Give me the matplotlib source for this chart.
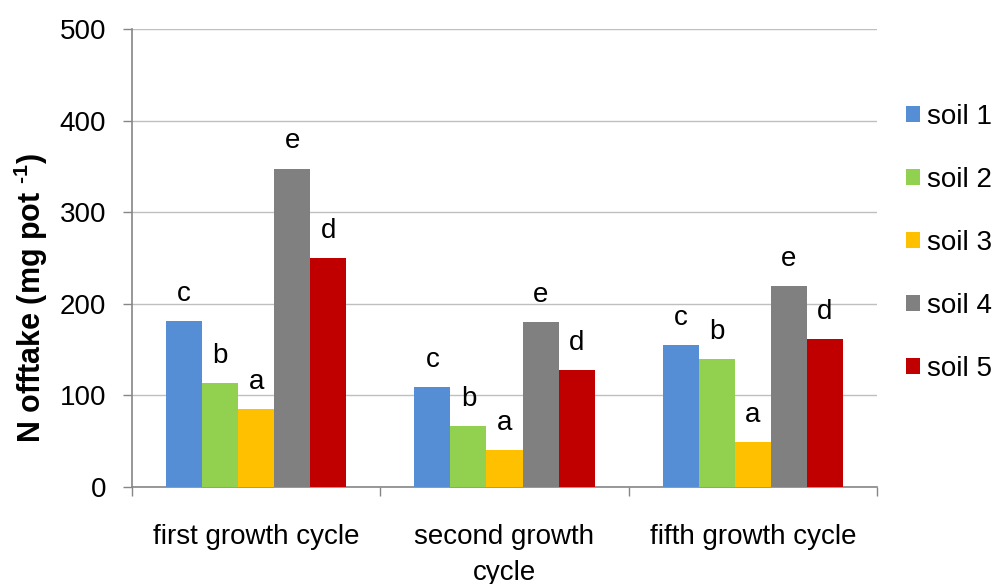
import matplotlib
matplotlib.use("Agg")
import matplotlib.pyplot as plt
import numpy as np

plt.rcParams['font.family'] = ['Liberation Sans', 'DejaVu Sans']
plt.rcParams['mathtext.fontset'] = 'custom'
plt.rcParams['mathtext.rm'] = 'Liberation Sans:bold'
plt.rcParams['mathtext.default'] = 'rm'

categories = ["first growth cycle", "second growth\ncycle", "fifth growth cycle"]
series_names = ["soil 1", "soil 2", "soil 3", "soil 4", "soil 5"]
soil1 = [181, 108.5, 154.5]
soil2 = [113.5, 66.5, 139.5]
soil3 = [84.5, 40, 48.5]
soil4 = [347.5, 179.5, 219]
soil5 = [249.5, 127, 161.5]
letters_soil1 = ["c", "c", "c"]
letters_soil2 = ["b", "b", "b"]
letters_soil3 = ["a", "a", "a"]
letters_soil4 = ["e", "e", "e"]
letters_soil5 = ["d", "d", "d"]
yticks = [0, 100, 200, 300, 400, 500]

values = [soil1, soil2, soil3, soil4, soil5]
letters = [letters_soil1, letters_soil2, letters_soil3, letters_soil4, letters_soil5]
colors = ["#558ED5", "#92D050", "#FFC000", "#808080", "#C00000"]

fig = plt.figure(figsize=(9.93, 5.84), dpi=100)
ax = fig.add_axes([132/993, 1-486.7/584, (877-132)/993, (486.7-29)/584])

x = np.arange(len(categories))
bw = 0.145
for i, (vals, col, name, labs) in enumerate(zip(values, colors, series_names, letters)):
    pos = x + (i - 2) * bw
    ax.bar(pos, vals, width=bw, color=col, label=name, linewidth=0, zorder=3)
    for px, v, lab in zip(pos, vals, labs):
        ax.annotate(lab, (px, v), xytext=(0, 14.5), textcoords='offset points',
                    ha='center', va='baseline', fontsize=20, color='black')

ax.set_xlim(-0.5, 2.5)
ax.set_ylim(0, 500)
ax.set_yticks(yticks)
ax.set_yticklabels([str(t) for t in yticks], fontsize=20)
ax.yaxis.grid(True, color='#BFBFBF', linewidth=1.0, zorder=0)
ax.set_axisbelow(True)

ax.set_xticks([-0.5, 0.5, 1.5, 2.5])
ax.set_xticklabels([])
ax.set_xticks(x, categories, minor=True)
ax.tick_params(axis='x', which='major', length=6.5, width=1, color='#868686', direction='out')
ax.tick_params(axis='x', which='minor', length=0, pad=26.5, labelsize=20)
for lab in ax.get_xticklabels(minor=True):
    lab.set_linespacing(1.5)
ax.tick_params(axis='y', length=6.5, width=1, color='#868686', pad=12)

for s in ['top', 'right']:
    ax.spines[s].set_visible(False)
for s in ['left', 'bottom']:
    ax.spines[s].set_color('#868686')
    ax.spines[s].set_linewidth(1.2)

fig.text(31/993, 1-298/584, r'N offtake (mg pot $^{\text{-}1}$)', fontsize=22,
         fontweight='bold', rotation=90, ha='center', va='center')

fig.legend(loc='upper left', bbox_to_anchor=(906/993, 1-104/584), frameon=False,
           fontsize=20, handlelength=0.5, handleheight=0.5, handletextpad=0.25,
           labelspacing=1.33, borderpad=0, borderaxespad=0)

fig.savefig("out.png", dpi=100)
